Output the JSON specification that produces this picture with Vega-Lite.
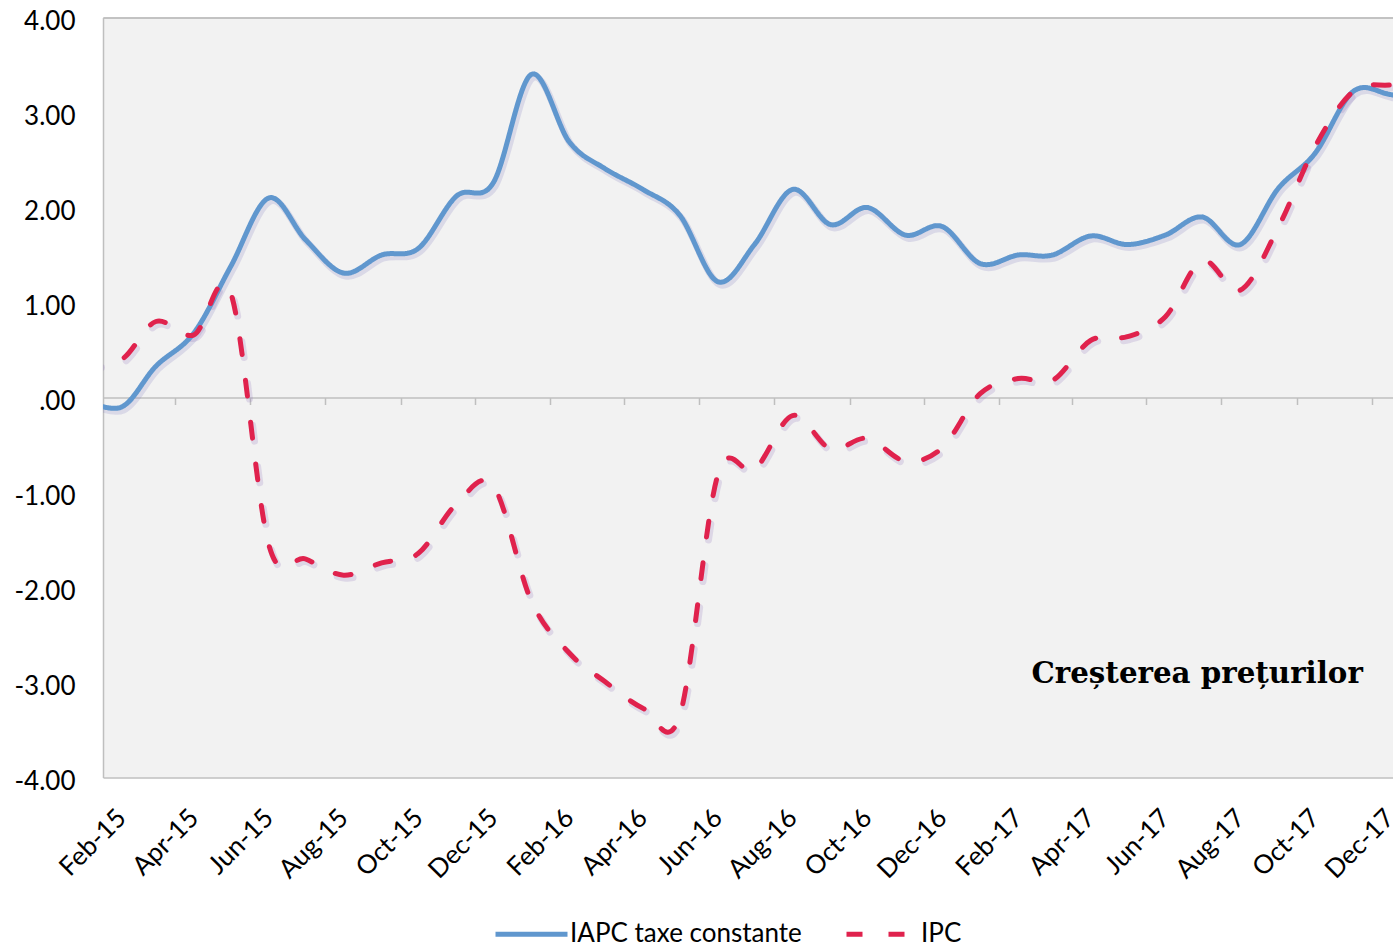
{
  "$schema": "https://vega.github.io/schema/vega-lite/v6.json",
  "width": 1290,
  "height": 760,
  "autosize": {"type": "none"},
  "padding": {"left": 103, "top": 17.5, "right": 0, "bottom": 170.5},
  "background": "#ffffff",
  "config": {
    "view": {"fill": "#F2F2F2", "stroke": null},
    "font": "Lato",
    "axis": {
      "labelFont": "Lato",
      "labelFontSize": 26,
      "labelColor": "#000000",
      "grid": false,
      "title": null,
      "domainColor": "#BFBFBF",
      "domainWidth": 1.5,
      "tickColor": "#BFBFBF",
      "tickWidth": 1.5
    },
    "legend": {
      "labelFont": "Lato",
      "labelFontSize": 26,
      "labelColor": "#000000",
      "labelLimit": 500
    }
  },
  "data": {
    "values": [
      {"luna": "2015-01-01", "IAPC taxe constante": -0.02, "IPC": 0.35},
      {"luna": "2015-02-01", "IAPC taxe constante": -0.10, "IPC": 0.40},
      {"luna": "2015-03-01", "IAPC taxe constante": 0.33, "IPC": 0.80},
      {"luna": "2015-04-01", "IAPC taxe constante": 0.68, "IPC": 0.66},
      {"luna": "2015-05-01", "IAPC taxe constante": 1.38, "IPC": 1.10},
      {"luna": "2015-06-01", "IAPC taxe constante": 2.10, "IPC": -1.55},
      {"luna": "2015-07-01", "IAPC taxe constante": 1.66, "IPC": -1.70},
      {"luna": "2015-08-01", "IAPC taxe constante": 1.31, "IPC": -1.87},
      {"luna": "2015-09-01", "IAPC taxe constante": 1.50, "IPC": -1.74},
      {"luna": "2015-10-01", "IAPC taxe constante": 1.57, "IPC": -1.64},
      {"luna": "2015-11-01", "IAPC taxe constante": 2.12, "IPC": -1.12},
      {"luna": "2015-12-01", "IAPC taxe constante": 2.26, "IPC": -0.93},
      {"luna": "2016-01-01", "IAPC taxe constante": 3.40, "IPC": -2.14},
      {"luna": "2016-02-01", "IAPC taxe constante": 2.69, "IPC": -2.69},
      {"luna": "2016-03-01", "IAPC taxe constante": 2.41, "IPC": -2.99},
      {"luna": "2016-04-01", "IAPC taxe constante": 2.19, "IPC": -3.27},
      {"luna": "2016-05-01", "IAPC taxe constante": 1.92, "IPC": -3.35},
      {"luna": "2016-06-01", "IAPC taxe constante": 1.22, "IPC": -0.82},
      {"luna": "2016-07-01", "IAPC taxe constante": 1.61, "IPC": -0.76},
      {"luna": "2016-08-01", "IAPC taxe constante": 2.19, "IPC": -0.19},
      {"luna": "2016-09-01", "IAPC taxe constante": 1.82, "IPC": -0.54},
      {"luna": "2016-10-01", "IAPC taxe constante": 2.00, "IPC": -0.43},
      {"luna": "2016-11-01", "IAPC taxe constante": 1.71, "IPC": -0.67},
      {"luna": "2016-12-01", "IAPC taxe constante": 1.80, "IPC": -0.53},
      {"luna": "2017-01-01", "IAPC taxe constante": 1.41, "IPC": 0.04},
      {"luna": "2017-02-01", "IAPC taxe constante": 1.50, "IPC": 0.20},
      {"luna": "2017-03-01", "IAPC taxe constante": 1.50, "IPC": 0.18},
      {"luna": "2017-04-01", "IAPC taxe constante": 1.70, "IPC": 0.60},
      {"luna": "2017-05-01", "IAPC taxe constante": 1.61, "IPC": 0.64},
      {"luna": "2017-06-01", "IAPC taxe constante": 1.71, "IPC": 0.85},
      {"luna": "2017-07-01", "IAPC taxe constante": 1.90, "IPC": 1.44},
      {"luna": "2017-08-01", "IAPC taxe constante": 1.61, "IPC": 1.13},
      {"luna": "2017-09-01", "IAPC taxe constante": 2.20, "IPC": 1.79},
      {"luna": "2017-10-01", "IAPC taxe constante": 2.57, "IPC": 2.64},
      {"luna": "2017-11-01", "IAPC taxe constante": 3.22, "IPC": 3.22},
      {"luna": "2017-12-01", "IAPC taxe constante": 3.19, "IPC": 3.29},
      {"luna": "2018-01-01", "IAPC taxe constante": 3.10, "IPC": 3.30}
    ]
  },
  "transform": [
    {"fold": ["IAPC taxe constante", "IPC"], "as": ["serie", "valoare"]}
  ],
  "resolve": {"axis": {"x": "independent"}},
  "layer": [
    {
      "transform": [{"filter": "datum.serie === 'IAPC taxe constante'"}],
      "mark": {
        "type": "line",
        "interpolate": "cardinal",
        "strokeWidth": 7,
        "strokeCap": "round",
        "color": "#7E78BE",
        "opacity": 0.2,
        "xOffset": 2,
        "yOffset": 3,
        "clip": true
      },
      "encoding": {
        "x": {
          "field": "luna",
          "type": "temporal",
          "scale": {
            "type": "utc",
            "domain": [
              {"year": 2015, "month": 1, "date": 16, "hours": 20, "utc": true},
              {"year": 2017, "month": 12, "date": 3, "hours": 14, "utc": true}
            ]
          },
          "axis": {"orient": "top", "labels": false, "ticks": false, "domain": true}
        },
        "y": {
          "field": "valoare",
          "type": "quantitative",
          "scale": {"domain": [-4, 4], "nice": false, "zero": false}
        }
      }
    },
    {
      "transform": [{"filter": "datum.serie === 'IPC'"}],
      "mark": {
        "type": "line",
        "interpolate": "cardinal",
        "strokeWidth": 7,
        "strokeCap": "round",
        "strokeDash": [16, 26],
        "color": "#8A6FB8",
        "opacity": 0.2,
        "xOffset": 2,
        "yOffset": 3,
        "clip": true
      },
      "encoding": {
        "x": {
          "field": "luna",
          "type": "temporal",
          "scale": {
            "type": "utc",
            "domain": [
              {"year": 2015, "month": 1, "date": 16, "hours": 20, "utc": true},
              {"year": 2017, "month": 12, "date": 3, "hours": 14, "utc": true}
            ]
          },
          "axis": {"orient": "top", "labels": false, "ticks": false, "domain": true}
        },
        "y": {
          "field": "valoare",
          "type": "quantitative",
          "scale": {"domain": [-4, 4], "nice": false, "zero": false}
        }
      }
    },
    {
      "mark": {
        "type": "line",
        "interpolate": "cardinal",
        "strokeWidth": 5,
        "strokeCap": "round",
        "clip": true
      },
      "encoding": {
        "x": {
          "field": "luna",
          "type": "temporal",
          "scale": {
            "type": "utc",
            "domain": [
              {"year": 2015, "month": 1, "date": 16, "hours": 20, "utc": true},
              {"year": 2017, "month": 12, "date": 3, "hours": 14, "utc": true}
            ]
          },
          "axis": {
            "orient": "bottom",
            "values": [
              {"year": 2015, "month": 2, "date": 1, "utc": true},
              {"year": 2015, "month": 4, "date": 1, "utc": true},
              {"year": 2015, "month": 6, "date": 1, "utc": true},
              {"year": 2015, "month": 8, "date": 1, "utc": true},
              {"year": 2015, "month": 10, "date": 1, "utc": true},
              {"year": 2015, "month": 12, "date": 1, "utc": true},
              {"year": 2016, "month": 2, "date": 1, "utc": true},
              {"year": 2016, "month": 4, "date": 1, "utc": true},
              {"year": 2016, "month": 6, "date": 1, "utc": true},
              {"year": 2016, "month": 8, "date": 1, "utc": true},
              {"year": 2016, "month": 10, "date": 1, "utc": true},
              {"year": 2016, "month": 12, "date": 1, "utc": true},
              {"year": 2017, "month": 2, "date": 1, "utc": true},
              {"year": 2017, "month": 4, "date": 1, "utc": true},
              {"year": 2017, "month": 6, "date": 1, "utc": true},
              {"year": 2017, "month": 8, "date": 1, "utc": true},
              {"year": 2017, "month": 10, "date": 1, "utc": true},
              {"year": 2017, "month": 12, "date": 1, "utc": true}
            ],
            "labelExpr": "utcFormat(datum.value, '%b-%y')",
            "ticks": false,
            "domain": true,
            "labelAngle": -45,
            "labelAlign": "right",
            "labelBaseline": "middle",
            "labelPadding": 36,
            "labelOverlap": false,
            "labelFlush": false,
            "labelBound": false
          }
        },
        "y": {
          "field": "valoare",
          "type": "quantitative",
          "scale": {"domain": [-4, 4], "nice": false, "zero": false},
          "axis": {
            "orient": "left",
            "values": [-4, -3, -2, -1, 0, 1, 2, 3, 4],
            "labelExpr": "datum.value === 0 ? '.00' : (datum.value < 0 ? '-' : '') + format(abs(datum.value), '.2f')",
            "ticks": false,
            "domain": true,
            "labelPadding": 28,
            "labelOffset": 3.5
          }
        },
        "color": {
          "field": "serie",
          "type": "nominal",
          "scale": {"domain": ["IAPC taxe constante", "IPC"], "range": ["#6097CE", "#E0224D"]},
          "legend": {
            "orient": "none",
            "legendX": 390,
            "legendY": 878,
            "direction": "horizontal",
            "title": null,
            "padding": 0,
            "symbolType": "stroke",
            "symbolSize": 5184,
            "symbolStrokeWidth": 5,
            "labelOffset": 0,
            "labelLimit": 500,
            "columnPadding": 34
          }
        },
        "strokeDash": {
          "field": "serie",
          "type": "nominal",
          "scale": {"domain": ["IAPC taxe constante", "IPC"], "range": [[1, 0], [16, 26]]}
        }
      }
    },
    {
      "data": {"values": [{"eticheta": "Creșterea prețurilor", "luna": "2017-11-09", "valoare": -3}]},
      "mark": {
        "type": "text",
        "font": "DejaVu Serif",
        "fontWeight": "bold",
        "fontSize": 29.3,
        "color": "#000000",
        "align": "right",
        "baseline": "alphabetic"
      },
      "encoding": {
        "x": {
          "field": "luna",
          "type": "temporal",
          "scale": {
            "type": "utc",
            "domain": [
              {"year": 2015, "month": 1, "date": 16, "hours": 20, "utc": true},
              {"year": 2017, "month": 12, "date": 3, "hours": 14, "utc": true}
            ]
          },
          "axis": {
            "orient": "bottom",
            "offset": -380,
            "values": [
              {"year": 2015, "month": 3, "date": 16, "hours": 12, "utc": true},
              {"year": 2015, "month": 5, "date": 16, "hours": 12, "utc": true},
              {"year": 2015, "month": 7, "date": 16, "hours": 12, "utc": true},
              {"year": 2015, "month": 9, "date": 16, "hours": 12, "utc": true},
              {"year": 2015, "month": 11, "date": 16, "hours": 12, "utc": true},
              {"year": 2016, "month": 1, "date": 16, "hours": 12, "utc": true},
              {"year": 2016, "month": 3, "date": 16, "hours": 12, "utc": true},
              {"year": 2016, "month": 5, "date": 16, "hours": 12, "utc": true},
              {"year": 2016, "month": 7, "date": 16, "hours": 12, "utc": true},
              {"year": 2016, "month": 9, "date": 16, "hours": 12, "utc": true},
              {"year": 2016, "month": 11, "date": 16, "hours": 12, "utc": true},
              {"year": 2017, "month": 1, "date": 16, "hours": 12, "utc": true},
              {"year": 2017, "month": 3, "date": 16, "hours": 12, "utc": true},
              {"year": 2017, "month": 5, "date": 16, "hours": 12, "utc": true},
              {"year": 2017, "month": 7, "date": 16, "hours": 12, "utc": true},
              {"year": 2017, "month": 9, "date": 16, "hours": 12, "utc": true},
              {"year": 2017, "month": 11, "date": 16, "hours": 12, "utc": true}
            ],
            "labels": false,
            "ticks": true,
            "tickSize": 7,
            "domain": true
          }
        },
        "y": {"field": "valoare", "type": "quantitative"},
        "text": {"field": "eticheta", "type": "nominal"}
      }
    }
  ]
}
